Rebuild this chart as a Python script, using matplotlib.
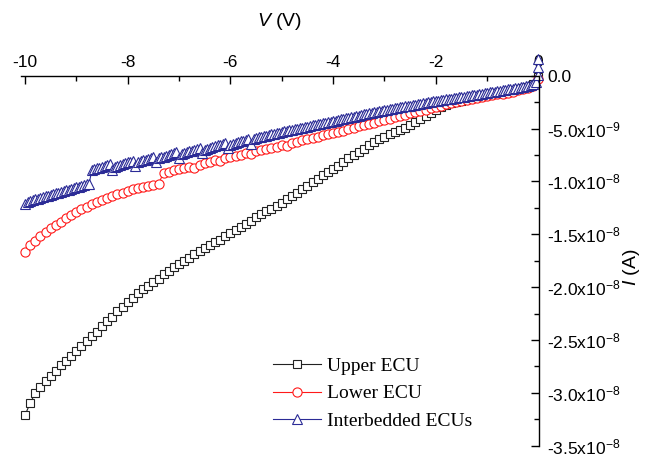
import numpy as np
import matplotlib
matplotlib.use("Agg")
import matplotlib.pyplot as plt
from matplotlib.ticker import FixedLocator, FixedFormatter, MultipleLocator

plt.rcParams['font.family'] = ['Liberation Sans', 'DejaVu Sans']
plt.rcParams['mathtext.fontset'] = 'custom'
plt.rcParams['mathtext.rm'] = 'Liberation Sans'
plt.rcParams['mathtext.it'] = 'Liberation Sans:italic'
plt.rcParams['mathtext.default'] = 'regular'

# ---------------- data (current in units of 1e-9 A) ----------------
series_names = ["Upper ECU", "Lower ECU", "Interbedded ECUs"]

upper_I = [
    -32.1, -31.0, -30.0, -29.4, -28.9, -28.4, -27.9, -27.4, -27.0, -26.5,
    -26.0, -25.6, -25.1, -24.6, -24.2, -23.7, -23.2, -22.8, -22.3, -21.9,
    -21.4, -21.0, -20.6, -20.2, -19.9, -19.5, -19.2, -18.8, -18.5, -18.1,
    -17.8, -17.5, -17.2, -16.9, -16.6, -16.3, -16.0, -15.7, -15.5, -15.2,
    -14.9, -14.6, -14.3, -14.0, -13.7, -13.4, -13.1, -12.8, -12.6, -12.3,
    -12.0, -11.7, -11.4, -11.1, -10.7, -10.4, -10.1, -9.8, -9.4, -9.1,
    -8.8, -8.5, -8.2, -7.8, -7.5, -7.2, -6.9, -6.6, -6.3, -6.0,
    -5.8, -5.55, -5.3, -5.1, -4.9, -4.7, -4.4, -4.1, -3.8, -3.5,
    -3.2, -2.95, -2.75, -2.6, -2.45, -2.35, -2.25, -2.15, -2.05, -1.95,
    -1.85, -1.75, -1.65, -1.6, -1.5, -1.4, -1.3, -1.2, -1.05, -0.8,
    -0.1,
]

lower_I = [
    -16.65, -16.0, -15.6, -15.2, -14.8, -14.4, -14.1, -13.8, -13.5, -13.2,
    -12.9, -12.65, -12.4, -12.15, -11.95, -11.75, -11.55, -11.35, -11.2, -11.05,
    -10.9, -10.75, -10.6, -10.5, -10.4, -10.3, -10.2, -9.2, -9.1, -8.95,
    -8.85, -8.7, -8.6, -8.7, -8.4, -8.25, -8.15, -8.0, -8.1, -7.8,
    -7.7, -7.6, -7.5, -7.35, -7.45, -7.15, -7.05, -6.95, -6.8, -6.7,
    -6.55, -6.65, -6.35, -6.25, -6.1, -6.0, -5.9, -5.8, -5.65, -5.55,
    -5.45, -5.3, -5.2, -5.05, -4.95, -4.8, -4.7, -4.55, -4.45, -4.3,
    -4.2, -4.05, -3.95, -3.8, -3.7, -3.55, -3.45, -3.3, -3.2, -3.05,
    -2.95, -2.85, -2.7, -2.6, -2.5, -2.4, -2.3, -2.2, -2.1, -2.0,
    -1.95, -1.85, -1.75, -1.7, -1.6, -1.5, -1.4, -1.3, -1.2, -1.0,
    -0.3,
]

inter_I = [
    # -10.00 .. -8.75
    -12.10, -11.93, -11.86, -11.78, -11.71, -11.64, -11.57, -11.50, -11.42, -11.35,
    -11.28, -11.21, -11.14, -11.06, -10.99, -10.92, -10.85, -10.78, -10.70, -10.63,
    -10.56, -10.49, -10.42, -10.34, -10.27, -10.20,
    # -8.70 .. -8.30
    -8.95, -8.85, -8.77, -8.69, -8.61, -8.53, -8.45, -8.37, -8.95,
    # -8.25 .. -7.85
    -8.60, -8.52, -8.44, -8.36, -8.28, -8.20, -8.12, -8.04, -8.55,
    # -7.80 .. -7.45
    -8.18, -8.10, -8.02, -7.94, -7.86, -7.78, -7.70, -8.15,
    # -7.40 .. -7.00
    -7.81, -7.73, -7.65, -7.57, -7.49, -7.41, -7.33, -7.25, -7.75,
    # -6.95 .. -6.55
    -7.40, -7.32, -7.24, -7.16, -7.08, -7.00, -6.92, -6.84, -7.33,
    # -6.50 .. -6.05
    -6.99, -6.91, -6.83, -6.75, -6.67, -6.59, -6.51, -6.43, -6.35, -6.88,
    # -6.00 .. -5.60
    -6.53, -6.45, -6.37, -6.29, -6.21, -6.13, -6.05, -5.97, -6.45,
    # -5.55 .. 0.00
    -5.95, -5.89, -5.83, -5.78, -5.72, -5.66, -5.61, -5.55, -5.49, -5.43,
    -5.38, -5.32, -5.27, -5.22, -5.17, -5.12, -5.07, -5.01, -4.96, -4.91,
    -4.86, -4.81, -4.76, -4.71, -4.66, -4.61, -4.56, -4.50, -4.45, -4.40,
    -4.35, -4.30, -4.25, -4.20, -4.14, -4.09, -4.04, -3.99, -3.93, -3.88,
    -3.83, -3.78, -3.72, -3.67, -3.62, -3.56, -3.51, -3.46, -3.41, -3.35,
    -3.30, -3.25, -3.21, -3.16, -3.12, -3.08, -3.04, -3.00, -2.95, -2.91,
    -2.87, -2.83, -2.78, -2.74, -2.70, -2.66, -2.61, -2.57, -2.53, -2.49,
    -2.44, -2.40, -2.36, -2.32, -2.28, -2.24, -2.20, -2.17, -2.13, -2.09,
    -2.05, -2.01, -1.97, -1.93, -1.89, -1.86, -1.82, -1.78, -1.74, -1.70,
    -1.66, -1.62, -1.58, -1.54, -1.50, -1.46, -1.42, -1.38, -1.34, -1.30,
    -1.26, -1.22, -1.17, -1.12, -1.07, -1.03, -0.99, -0.95, -0.88, -0.80,
    -0.55, 0.10,
]
# extra readings recorded at 0 V
inter_extra_V = [0.0, 0.0]
inter_extra_I = [0.8, 1.6]

assert len(upper_I) == 101 and len(lower_I) == 101 and len(inter_I) == 201

V_coarse = np.round(np.linspace(-10, 0, 101), 2)
V_fine = np.round(np.linspace(-10, 0, 201), 2)

upper_V = V_coarse
lower_V = V_coarse
inter_V = np.concatenate([V_fine, inter_extra_V])
inter_Iall = np.concatenate([inter_I, inter_extra_I])

x_ticks = [-10, -8, -6, -4, -2, 0]
x_tick_labels = ["-10", "-8", "-6", "-4", "-2", "0"]
y_ticks = [0.0, -5e-9, -1.0e-8, -1.5e-8, -2.0e-8, -2.5e-8, -3.0e-8, -3.5e-8]
y_tick_labels = ["0.0", r"-5.0x10$^{-9}$", r"-1.0x10$^{-8}$", r"-1.5x10$^{-8}$",
                 r"-2.0x10$^{-8}$", r"-2.5x10$^{-8}$", r"-3.0x10$^{-8}$",
                 r"-3.5x10$^{-8}$"]

# ---------------- figure ----------------
W, H = 651, 454
fig = plt.figure(figsize=(W / 100, H / 100), dpi=100)
ax = fig.add_axes([20.9 / W, 1 - 445.7 / H, (539 - 20.9) / W, (445.7 - 75.7) / H])

blue = '#2b2b96'
red = '#ff1a1a'
ax.plot(upper_V, np.array(upper_I) * 1e-9, '-', color='#222222', lw=0.8,
        marker='s', ms=6.0, mfc='white', mec='#222222', mew=0.8,
        label=series_names[0], clip_on=False)
ax.plot(lower_V, np.array(lower_I) * 1e-9, '-', color=red, lw=0.8,
        marker='o', ms=6.6, mfc='white', mec=red, mew=0.8,
        label=series_names[1], clip_on=False)
ax.plot(inter_V, inter_Iall * 1e-9, '-', color=blue, lw=0.8,
        marker='^', ms=6.8, mfc='white', mec=blue, mew=0.8,
        label=series_names[2], clip_on=False)

ax.set_xlim(-10.08, 0.01)
ax.set_ylim(-3.5e-8, 0)

for s in ['left', 'bottom']:
    ax.spines[s].set_visible(False)
for s in ['top', 'right']:
    ax.spines[s].set_linewidth(1.0)

ax.xaxis.tick_top()
ax.yaxis.tick_right()
ax.xaxis.set_major_locator(FixedLocator(x_ticks))
ax.xaxis.set_major_formatter(FixedFormatter(x_tick_labels))
ax.xaxis.set_minor_locator(MultipleLocator(1))
ax.yaxis.set_major_locator(FixedLocator(y_ticks))
ax.yaxis.set_major_formatter(FixedFormatter(y_tick_labels))
ax.yaxis.set_minor_locator(MultipleLocator(2.5e-9))

ax.tick_params(axis='both', which='both', direction='in', width=1.0)
ax.tick_params(axis='both', which='major', length=6.0, labelsize=12.5)
ax.tick_params(axis='both', which='minor', length=3.8)
ax.tick_params(axis='x', which='both', top=True, bottom=False,
               labeltop=True, labelbottom=False, pad=4)
ax.tick_params(axis='y', which='both', right=True, left=False,
               labelright=True, labelleft=False, pad=6)

fig.text(280 / W, 1 - 22 / H, r"$\it{V}$ (V)", fontsize=14,
         ha='center', va='center')
fig.text(632 / W, 1 - 267 / H, r"$\it{I}$ (A)", fontsize=14,
         ha='center', va='center', rotation=90)

leg = ax.legend(loc='upper left', bbox_to_anchor=(273 / W, 1 - 357 / H),
                bbox_transform=fig.transFigure, frameon=False, numpoints=1,
                prop={'family': 'Liberation Serif', 'size': 14},
                handlelength=2.47, handletextpad=0.31, labelspacing=0.52,
                borderpad=0, borderaxespad=0)

fig.savefig("out.png", dpi=100)
